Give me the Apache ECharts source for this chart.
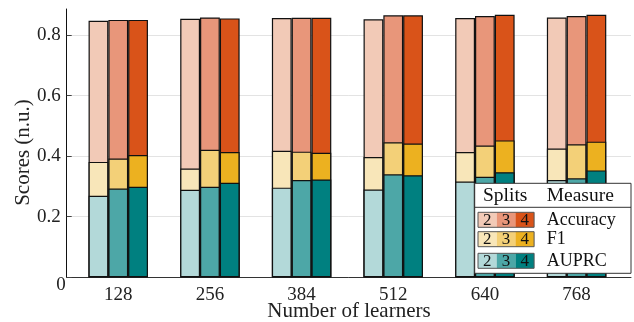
<!DOCTYPE html>
<html><head><meta charset="utf-8">
<script src="https://cdn.jsdelivr.net/npm/echarts@6/dist/echarts.min.js"></script>
<style>html,body{margin:0;padding:0;background:#fff}#c{width:634px;height:322px}</style>
</head><body><div id="c"></div>
<script>
const learners = [128, 256, 384, 512, 640, 768];
const splits = ['2', '3', '4'];
const measures = ['Accuracy', 'F1', 'AUPRC'];
const yTicks = [0, 0.2, 0.4, 0.6, 0.8];
const accuracy2 = [0.847, 0.854, 0.856, 0.852, 0.856, 0.858];
const accuracy3 = [0.850, 0.858, 0.857, 0.865, 0.863, 0.863];
const accuracy4 = [0.850, 0.855, 0.857, 0.865, 0.867, 0.867];
const f1_2 = [0.381, 0.359, 0.418, 0.397, 0.414, 0.425];
const f1_3 = [0.392, 0.421, 0.415, 0.446, 0.435, 0.439];
const f1_4 = [0.404, 0.414, 0.411, 0.442, 0.452, 0.448];
const auprc2 = [0.269, 0.289, 0.296, 0.290, 0.316, 0.321];
const auprc3 = [0.293, 0.299, 0.321, 0.340, 0.332, 0.327];
const auprc4 = [0.299, 0.312, 0.323, 0.337, 0.347, 0.353];

const colors = {
  Accuracy: ['#f2cab7', '#e8967a', '#d95319'],
  F1: ['#f8e6b9', '#f3d078', '#ecb120'],
  AUPRC: ['#b3d9d9', '#4da7a7', '#008080']
};
const values = {
  Accuracy: [accuracy2, accuracy3, accuracy4],
  F1: [f1_2, f1_3, f1_4],
  AUPRC: [auprc2, auprc3, auprc4]
};
const FONT = '"Liberation Serif", "Times New Roman", serif';
const CFONT = '"Liberation Serif", serif';

const chart = echarts.init(document.getElementById('c'), null, {renderer: 'canvas'});
const xMin = 56, xMax = 844;
const mkX = (show) => ({
  type: 'value', min: xMin, max: xMax, interval: 8, show: show,
  axisLine: {show: true, onZero: false, lineStyle: {color: '#333', width: 1}},
  axisTick: {show: false}, splitLine: {show: false},
  axisLabel: {
    show: show, margin: 8, fontFamily: FONT, fontSize: 19, color: '#222',
    formatter: v => (learners.indexOf(v) >= 0 ? String(v) : '')
  }
});

const series = [];
measures.forEach((m, mi) => {
  splits.forEach((s, si) => {
    series.push({
      type: 'bar', name: m + ' ' + s, xAxisIndex: mi,
      barWidth: 19.8, barGap: '0%',
      data: learners.map((x, i) => [x, values[m][si][i]]),
      itemStyle: {color: colors[m][si], borderColor: '#111', borderWidth: 1.2},
      emphasis: {disabled: true}
    });
  });
});

const lx = 474.7, ly = 183.3, lw = 156.3, lh = 90;
const g = [];
g.push({type: 'text', x: 23, y: 152.5, rotation: Math.PI / 2, style: {text: 'Scores (n.u.)', font: '21px ' + CFONT, fill: '#222', align: 'center', verticalAlign: 'middle'}});
g.push({type: 'text', x: 349, y: 311, style: {text: 'Number of learners', font: '21px ' + CFONT, fill: '#222', align: 'center', verticalAlign: 'middle'}});
g.push({type: 'rect', shape: {x: lx, y: ly, width: lw, height: lh}, style: {fill: '#fff', stroke: '#333', lineWidth: 1}, z: 100});
g.push({type: 'line', shape: {x1: lx, y1: 207.3, x2: lx + lw, y2: 207.3}, style: {stroke: '#333', lineWidth: 1}, z: 101});
g.push({type: 'text', x: 483, y: 195.5, style: {text: 'Splits', font: '19.5px ' + CFONT, fill: '#111', verticalAlign: 'middle'}, z: 101});
g.push({type: 'text', x: 546.7, y: 195.5, style: {text: 'Measure', font: '19.5px ' + CFONT, fill: '#111', verticalAlign: 'middle'}, z: 101});
const rowY = [212.3, 231.7, 253.3];
measures.forEach((m, mi) => {
  const y = rowY[mi];
  splits.forEach((s, si) => {
    g.push({type: 'rect', shape: {x: 478 + si * 18.7, y: y, width: 18.7, height: 15}, style: {fill: colors[m][si]}, z: 101});
    g.push({type: 'text', x: 478 + si * 18.7 + 9.35, y: y + 7.8, style: {text: s, font: '17px ' + CFONT, fill: '#111', align: 'center', verticalAlign: 'middle'}, z: 102});
  });
  g.push({type: 'rect', shape: {x: 478, y: y, width: 56.1, height: 15}, style: {fill: 'none', stroke: '#555', lineWidth: 1}, z: 102});
  g.push({type: 'text', x: 546.7, y: y + 7.8, style: {text: m, font: '18px ' + CFONT, fill: '#111', verticalAlign: 'middle'}, z: 101});
});

chart.setOption({
  animation: false,
  backgroundColor: '#fff',
  grid: {left: 66.7, right: 3, top: 9, bottom: 44.7, containLabel: false, outerBoundsMode: 'none'},
  xAxis: [mkX(true), mkX(false), mkX(false)],
  yAxis: {
    type: 'value', min: 0, max: 0.886, interval: 0.2,
    axisLine: {show: true, lineStyle: {color: '#111', width: 1}},
    axisTick: {show: true, inside: true, length: 5, lineStyle: {color: '#444'}},
    splitLine: {show: true, showMinLine: false, showMaxLine: false, lineStyle: {color: '#e3e3e3', width: 1}},
    axisLabel: {
      showMaxLabel: false, margin: 1, fontFamily: FONT, fontSize: 19, color: '#222',
      formatter: v => {
        const t = yTicks.find(k => Math.abs(k - v) < 1e-6);
        if (t === undefined) return '';
        return t === 0 ? '{z|0}' : '{n|' + t + '}';
      },
      rich: {
        z: {fontFamily: FONT, fontSize: 19, color: '#222', padding: [16, 0, 0, 0]},
        n: {fontFamily: FONT, fontSize: 19, color: '#222', padding: [0, 5, 0, 0]}
      }
    }
  },
  series: series,
  graphic: g
});
</script></body></html>
